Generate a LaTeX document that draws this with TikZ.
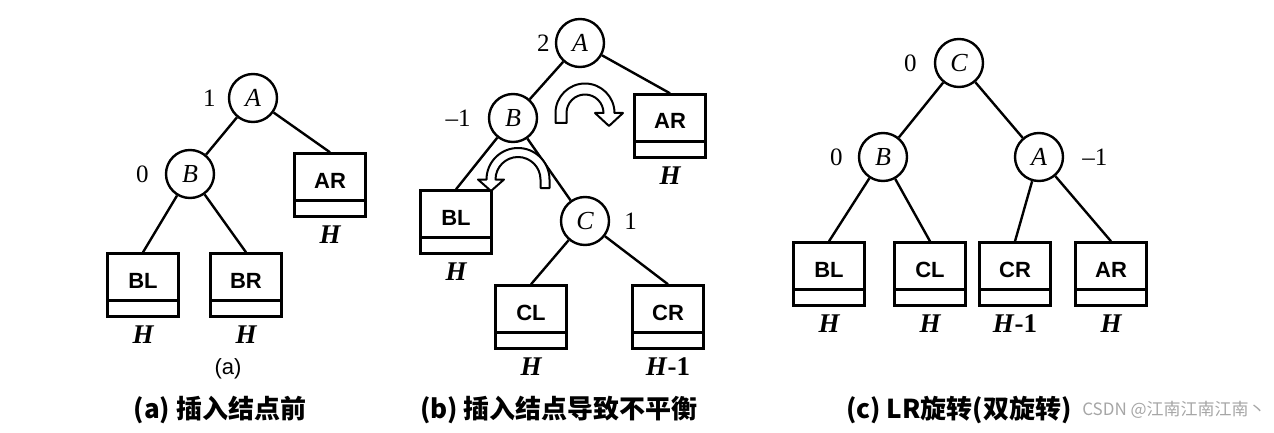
\documentclass[tikz,border=0pt]{standalone}
\usepackage{fontspec}
\setmainfont{Liberation Serif}
\setsansfont{Liberation Sans}
\newfontfamily\cjk{Noto Sans CJK SC}

\begin{document}
\begin{tikzpicture}[x=1pt,y=-1pt,line width=2.4pt]
    % Define node styles
    \tikzstyle{tree node}=[circle, draw, minimum size=48pt, inner sep=0pt, font=\fontsize{26}{26}\selectfont\itshape]
    \tikzstyle{sub tree}=[rectangle, draw, minimum width=71pt, minimum height=63pt, inner sep=0pt,
        text height=16pt, text depth=10pt, font=\sffamily\bfseries\fontsize{22}{22}\selectfont,
        path picture={\draw ([yshift=16pt]path picture bounding box.south west) -- ([yshift=16pt]path picture bounding box.south east);}]
    \tikzstyle{balance}=[font=\fontsize{25}{25}\selectfont, inner sep=1pt, label distance=12pt]
    \tikzstyle{h label}=[font=\fontsize{27}{27}\selectfont\bfseries\itshape, inner sep=1pt, label distance=6pt]
    \tikzstyle{rot arrow}=[draw, fill=white, line width=2pt, line join=round]
    \tikzstyle{caption}=[font=\cjk\bfseries\fontsize{26}{26}\selectfont]

    \useasboundingbox (0,0) rectangle (1274,433);

    % Tree (a)
    \node[tree node, label={[balance,label distance=10pt]left:1}] (aA) at (253,98) {A};
    \node[tree node, label={[balance,label distance=14pt]left:0}] (aB) at (190,174) {B};
    \node[sub tree, label={[h label]below:H}] (aAR) at (330,185) {AR};
    \node[sub tree, label={[h label]below:H}] (aBL) at (143,285) {BL};
    \node[sub tree, label={[h label]below:H}] (aBR) at (246,285) {BR};
    \draw (aA) -- (aB);
    \draw (aA) -- (aAR.north);
    \draw (aB) -- (aBL.north);
    \draw (aB) -- (aBR.north);

    % Tree (b)
    \node[tree node, label={[balance,label distance=3pt]left:2}] (bA) at (580,43) {A};
    \node[tree node, label={[balance,label distance=15pt]left:--1}] (bB) at (513,118) {B};
    \node[tree node, label={[balance]right:1}] (bC) at (585,221) {C};
    \node[sub tree, label={[h label]below:H}] (bAR) at (670,126) {AR};
    \node[sub tree, label={[h label]below:H}] (bBL) at (456,222) {BL};
    \node[sub tree, label={[h label]below:H}] (bCL) at (531,317) {CL};
    \node[sub tree, label={[h label]below:H\/\upshape-1}] (bCR) at (668,317) {CR};
    \draw (bA) -- (bB);
    \draw (bA) -- (bAR.north);
    \draw (bB) -- (bBL.north);
    \draw (bB) -- (bC);
    \draw (bC) -- (bCL.north);
    \draw (bC) -- (bCR.north);

    % Rotation arrows
    \draw[rot arrow] (555.5,123) -- (555.5,113) arc[start angle=180, end angle=360, radius=29.5]
        -- (623,113) -- (609,126) -- (595,113) -- (603.5,113)
        arc[start angle=360, end angle=180, radius=18.5] -- (566.5,123) -- cycle;
    \draw[rot arrow] (549.5,188) -- (549.5,179.5) arc[start angle=360, end angle=180, radius=31.5]
        -- (478,179.5) -- (491,191) -- (504,179.5) -- (495.5,179.5)
        arc[start angle=180, end angle=360, radius=22.5] -- (540.5,188) -- cycle;

    % Tree (c)
    \node[tree node, label={[balance,label distance=15pt]left:0}] (cC) at (959,63) {C};
    \node[tree node, label={[balance,label distance=13pt]left:0}] (cB) at (883,157) {B};
    \node[tree node, label={[balance,label distance=16pt]right:--1}] (cA) at (1039,157) {A};
    \node[sub tree, label={[h label]below:H}] (cBL) at (829,274) {BL};
    \node[sub tree, label={[h label]below:H}] (cCL) at (930,274) {CL};
    \node[sub tree, label={[h label]below:H\/\upshape-1}] (cCR) at (1015,274) {CR};
    \node[sub tree, label={[h label]below:H}] (cAR) at (1111,274) {AR};
    \draw (cC) -- (cB);
    \draw (cC) -- (cA);
    \draw (cB) -- (cBL.north);
    \draw (cB) -- (cCL.north);
    \draw (cA) -- (cCR.north);
    \draw (cA) -- (cAR.north);

    % Captions
    \node[font=\sffamily\fontsize{22}{22}\selectfont] (subA) at (228,369) {(a)};
    \node[caption] (capA) at (220,410) {(a) 插入结点前};
    \node[caption] (capB) at (559,410) {(b) 插入结点导致不平衡};
    \node[caption] (capC) at (959,410) {(c) LR旋转(双旋转)};
    \node[font=\cjk\fontsize{17}{17}\selectfont, text=gray!70] (mark) at (1174,410) {CSDN @江南江南江南丶};
\end{tikzpicture}
\end{document}
